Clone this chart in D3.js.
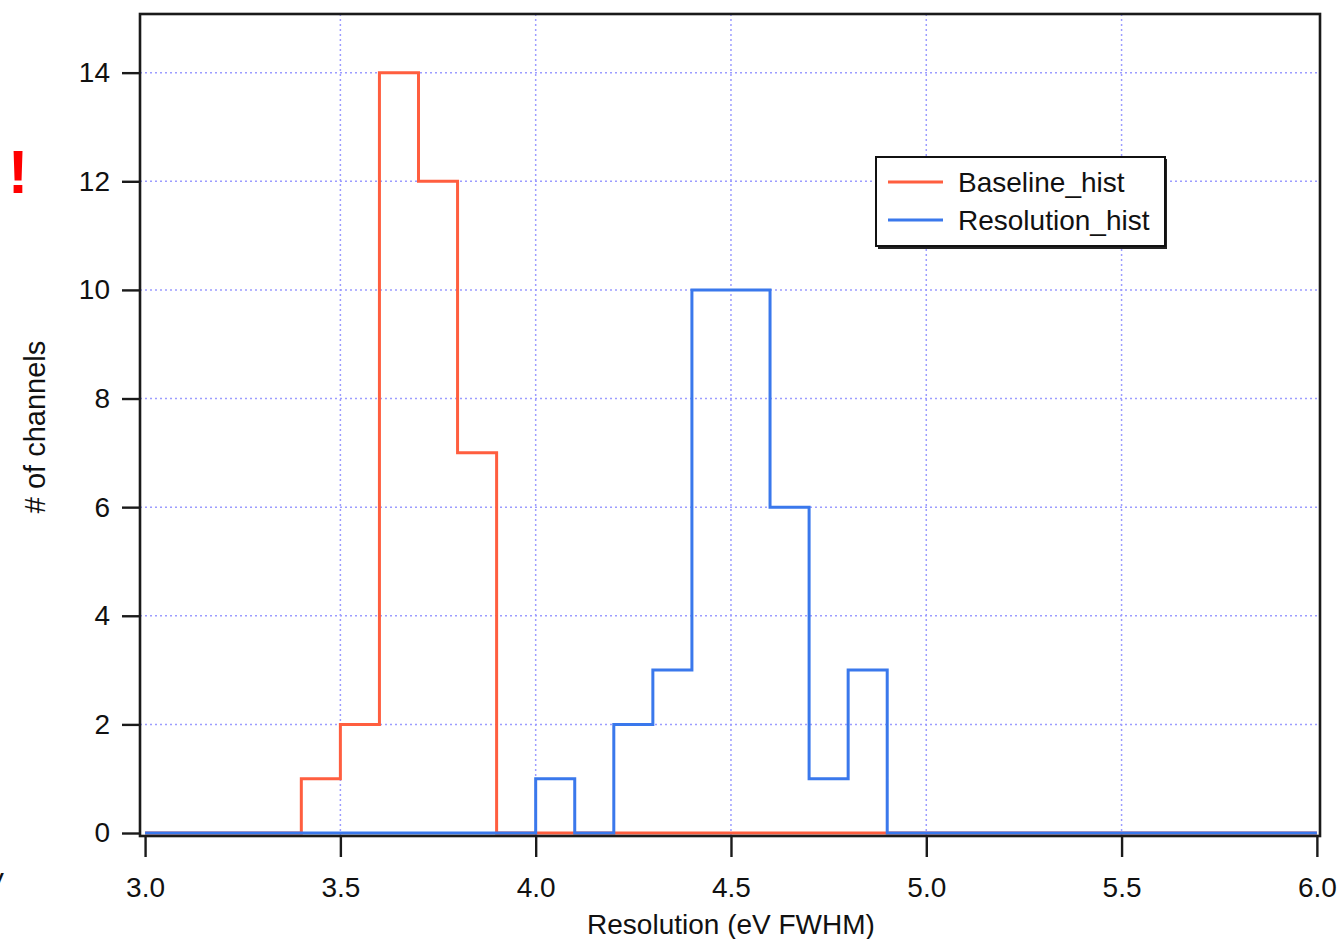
<!DOCTYPE html>
<html>
<head>
<meta charset="utf-8">
<script src="https://cdn.jsdelivr.net/npm/d3@7"></script>
<style>
  body { margin: 0; background: #fff; }
  svg text { font-family: "Liberation Sans", Arial, sans-serif; fill: #111; }
</style>
</head>
<body>
<div id="chart"></div>
<script>
// histogram bins, 0.1 eV wide, from 3.0 to 6.0
let binStarts = [3.0, 3.1, 3.2, 3.3, 3.4, 3.5, 3.6, 3.7, 3.8, 3.9,
                 4.0, 4.1, 4.2, 4.3, 4.4, 4.5, 4.6, 4.7, 4.8, 4.9,
                 5.0, 5.1, 5.2, 5.3, 5.4, 5.5, 5.6, 5.7, 5.8, 5.9]
let binEnd = 6.0

let baselineCounts = [0, 0, 0, 0, 1, 2, 14, 12, 7, 0,
                      0, 0, 0, 0, 0, 0, 0, 0, 0, 0,
                      0, 0, 0, 0, 0, 0, 0, 0, 0, 0]
let resolutionCounts = [0, 0, 0, 0, 0, 0, 0, 0, 0, 0,
                        1, 0, 2, 3, 10, 10, 6, 1, 3, 0,
                        0, 0, 0, 0, 0, 0, 0, 0, 0, 0]

let seriesNames = ["Baseline_hist", "Resolution_hist"]
let xTicks = [3.0, 3.5, 4.0, 4.5, 5.0, 5.5, 6.0]
let yTicks = [0, 2, 4, 6, 8, 10, 12, 14]

let width = 1340
let height = 939

// plot frame
let plotLeft = 140, plotRight = 1320, plotTop = 14, plotBottom = 836

let colors = ["#ff5e3f", "#3a78ec"]

let svg = d3.select("#chart")
    .append("svg")
    .attr("width", width)
    .attr("height", height)

let xScale = d3.scaleLinear()
    .domain([2.987, 6.008])
    .range([plotLeft, plotRight])

let yScale = d3.scaleLinear()
    .domain([-0.055, 15.08])
    .range([plotBottom, plotTop])

// grid
let grid = svg.append("g").attr("class", "grid")
grid.selectAll("line.gx")
    .data(xTicks.filter(d => d > 3.0 && d < 6.0))
    .enter().append("line")
    .attr("class", "gx")
    .attr("x1", d => xScale(d)).attr("x2", d => xScale(d))
    .attr("y1", plotTop).attr("y2", plotBottom)
grid.selectAll("line.gy")
    .data(yTicks.filter(d => d > 0))
    .enter().append("line")
    .attr("class", "gy")
    .attr("x1", plotLeft).attr("x2", plotRight)
    .attr("y1", d => yScale(d)).attr("y2", d => yScale(d))
grid.selectAll("line")
    .attr("stroke", "#9c9cff")
    .attr("stroke-width", 1.5)
    .attr("stroke-dasharray", "2,3")

// histograms
let line = d3.line()
    .x(d => xScale(d[0]))
    .y(d => yScale(d[1]))
    .curve(d3.curveStepAfter)

function stepPoints(counts){
    let pts = binStarts.map((b, i) => [b, counts[i]])
    pts.push([binEnd, counts[counts.length - 1]])
    return pts
}

let allSeries = [baselineCounts, resolutionCounts]
allSeries.forEach(function(counts, i){
    svg.append("path")
        .attr("d", line(stepPoints(counts)))
        .attr("fill", "none")
        .attr("stroke", colors[i])
        .attr("stroke-width", 3)
})

// frame
svg.append("rect")
    .attr("x", plotLeft).attr("y", plotTop)
    .attr("width", plotRight - plotLeft).attr("height", plotBottom - plotTop)
    .attr("fill", "none")
    .attr("stroke", "#1a1a1a")
    .attr("stroke-width", 2.6)

// axes
let xAxis = d3.axisBottom(xScale)
    .tickValues(xTicks)
    .tickFormat(d3.format(".1f"))
    .tickSize(21)
    .tickPadding(20)
let yAxis = d3.axisLeft(yScale)
    .tickValues(yTicks)
    .tickFormat(d3.format("d"))
    .tickSize(18)
    .tickPadding(12)

let gx = svg.append("g")
    .attr("transform", `translate(0, ${plotBottom})`)
    .call(xAxis)
let gy = svg.append("g")
    .attr("transform", `translate(${plotLeft}, 0)`)
    .call(yAxis)

;[gx, gy].forEach(function(g){
    g.select(".domain").remove()
    g.selectAll(".tick line").attr("stroke", "#1a1a1a").attr("stroke-width", 2.4)
    g.selectAll(".tick text")
        .attr("font-size", 28)
        .attr("fill", "#111")
        .style("font-family", "'Liberation Sans', Arial, sans-serif")
})

// axis titles
svg.append("text")
    .attr("x", (xScale(3.0) + xScale(6.0)) / 2)
    .attr("y", 934)
    .attr("text-anchor", "middle")
    .attr("font-size", 28)
    .text("Resolution (eV FWHM)")

svg.append("text")
    .attr("transform", `translate(45, ${(plotTop + plotBottom) / 2 + 2}) rotate(-90)`)
    .attr("text-anchor", "middle")
    .attr("font-size", 29)
    .text("# of channels")

// legend
let legend = svg.append("g").attr("transform", "translate(876, 157)")
legend.append("rect")
    .attr("x", 2).attr("y", 2)
    .attr("width", 289).attr("height", 90)
    .attr("fill", "#222")
legend.append("rect")
    .attr("x", 0).attr("y", 0)
    .attr("width", 289).attr("height", 89)
    .attr("fill", "#fff")
    .attr("stroke", "#111")
    .attr("stroke-width", 2)
seriesNames.forEach(function(name, i){
    let yy = 25 + i * 38
    legend.append("line")
        .attr("x1", 12).attr("x2", 67)
        .attr("y1", yy).attr("y2", yy)
        .attr("stroke", colors[i])
        .attr("stroke-width", 3)
    legend.append("text")
        .attr("x", 82).attr("y", yy + 10)
        .attr("font-size", 28)
        .text(name)
})

// stray marks at the left edge
svg.append("text")
    .attr("x", 18).attr("y", 193)
    .attr("text-anchor", "middle")
    .attr("font-size", 62)
    .attr("font-weight", "bold")
    .style("fill", "#f00")
    .text("!")

svg.append("text")
    .attr("x", 4).attr("y", 892)
    .attr("text-anchor", "end")
    .attr("font-size", 28)
    .text("V")
</script>
</body>
</html>
